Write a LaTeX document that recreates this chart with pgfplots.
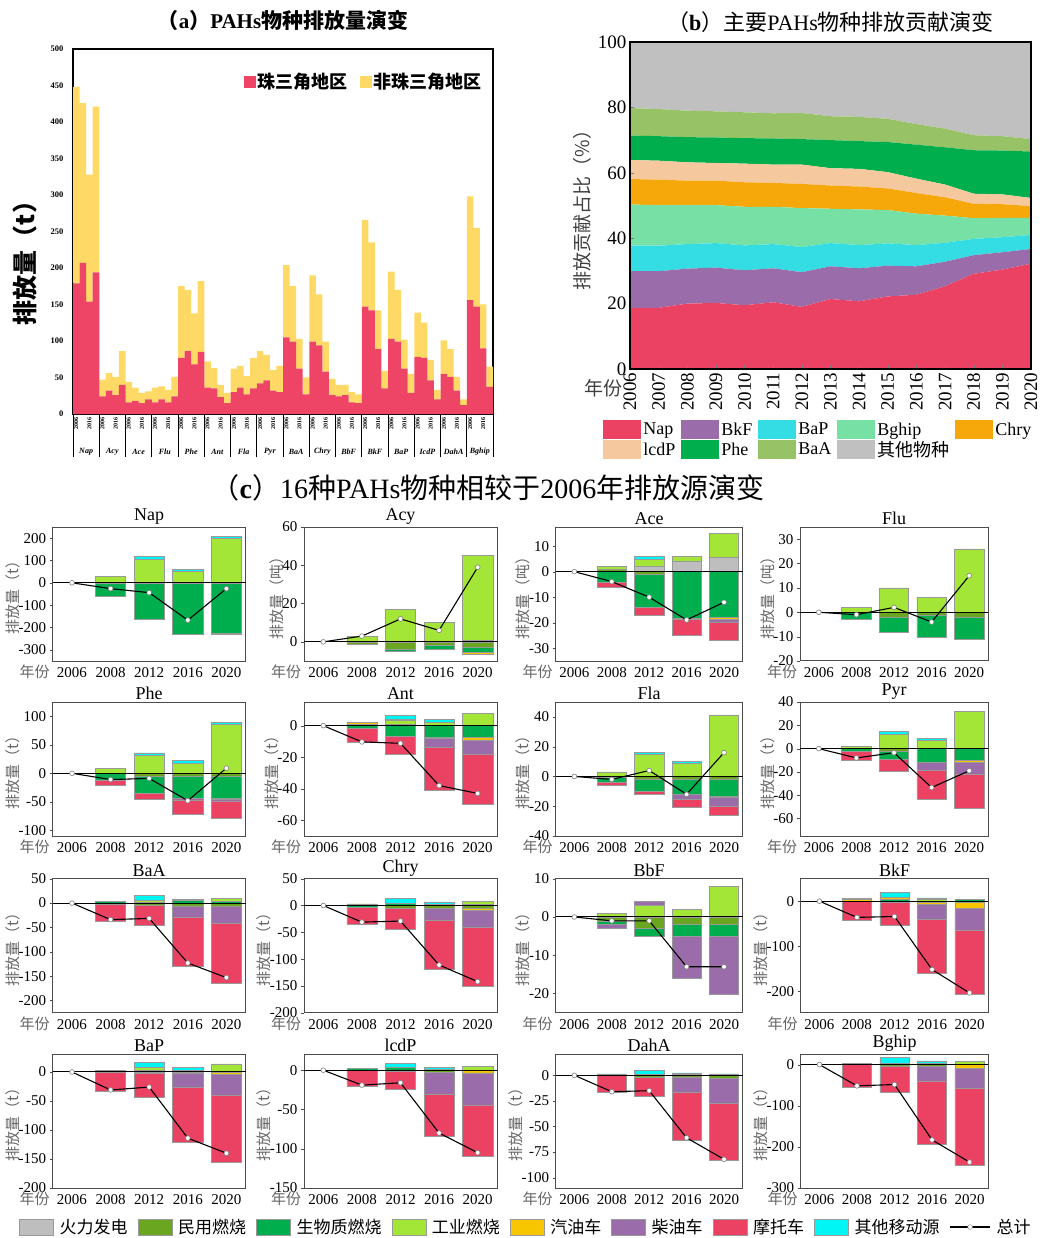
\documentclass[border=0pt]{standalone}
\usepackage{pgfplots}
\pgfplotsset{compat=1.18}
\usepackage{pgfplotstable}
\usepackage{fontspec}
\setmainfont{Liberation Serif}
\newfontfamily\zhfont{Noto Sans CJK SC}

% --- Farben ---------------------------------------------
\definecolor{cH}{HTML}{BEBEBE}
\definecolor{cM}{HTML}{6AA61F}
\definecolor{cB}{HTML}{00AE4D}
\definecolor{cI}{HTML}{A4E637}
\definecolor{cG}{HTML}{F7C600}
\definecolor{cD}{HTML}{9A6DAA}
\definecolor{cT}{HTML}{EB4264}
\definecolor{cO}{HTML}{00F5F5}
\definecolor{aRed}{HTML}{EE4466}
\definecolor{aYel}{HTML}{FFD966}
\definecolor{bBaP}{HTML}{33DDE3}
\definecolor{bBgh}{HTML}{76E0A5}
\definecolor{bChr}{HTML}{F6A70A}
\definecolor{bIcd}{HTML}{F5C89D}
\definecolor{bBaA}{HTML}{98C266}
\definecolor{bOth}{HTML}{C0C0C0}

% --- (a) PRD / non-PRD, 16 species x 4 years ------------
\pgfplotstableread{
x prd non
1 179 269
2 207 219
3 154 174
4 194 227
5 24 23
6 32 24
7 26 25
8 40 46
9 16 28
10 18 18
11 15 14
12 20 11
13 16 20
14 20 18
15 16 17
16 24 27
17 77 98
18 86 84
19 68 70
20 85 97
21 36 36
22 35 28
23 23 17
24 15 14
25 30 32
26 36 30
27 27 25
28 35 42
29 42 44
30 46 35
31 32 28
32 30 36
33 105 99
34 99 76
35 62 41
36 27 23
37 99 91
38 94 70
39 58 41
40 26 22
41 24 16
42 26 14
43 16 14
44 15 12
45 147 119
46 142 93
47 89 53
48 35 24
49 103 92
50 99 71
51 62 40
52 29 26
53 78 61
54 77 48
55 46 28
56 20 13
57 55 46
58 51 38
59 32 19
60 12 8
61 156 142
62 147 108
63 90 60
64 37 28
}\tA

% --- (b) Anteile (%) -------------------------------------
\pgfplotstableread{
yr Nap BkF BaP Bghip Chry IcdP Phe BaA Oth
2006 18.7 11.2 7.8 12.6 7.8 5.8 7.5 8.4 20.2
2007 18.7 11.2 7.8 12.4 7.8 5.8 7.5 8.3 20.5
2008 20.0 10.7 7.5 11.9 7.5 5.6 7.7 8.1 21.0
2009 20.2 10.8 7.5 11.6 7.5 5.4 7.8 8.0 21.2
2010 19.5 10.7 7.6 11.8 7.5 5.7 7.8 7.9 21.5
2011 20.4 10.4 7.4 11.4 7.3 5.6 8.0 7.7 21.8
2012 19.0 10.6 7.7 11.9 7.4 5.9 7.8 8.0 21.7
2013 21.4 10.0 7.1 10.5 7.1 5.3 8.6 7.3 22.7
2014 20.7 10.1 7.1 10.9 7.0 5.4 8.5 7.4 22.9
2015 22.2 9.4 6.8 10.2 6.6 5.0 9.2 7.1 23.5
2016 22.7 8.7 6.5 9.6 6.3 4.4 10.4 6.3 25.1
2017 25.3 7.5 5.8 8.3 5.6 3.9 11.4 5.7 26.5
2018 29.1 5.7 5.0 6.3 4.4 3.1 13.3 4.6 28.5
2019 30.4 5.3 4.6 5.9 4.2 3.0 13.4 4.4 28.8
2020 32.2 4.5 4.3 5.2 3.6 2.5 14.2 3.8 29.7
}\tB

% --- (c) Aenderung gegenueber 2006, je Quelle -----------
% H 火力发电, M 民用燃烧, B 生物质燃烧, I 工业燃烧,
% G 汽油车, D 柴油车, T 摩托车, O 其他移动源
\pgfplotstableread{
x H M B I G D T O
1 0 0 -58 28 0 0 0 0
2 0 0 -165 107 0 0 0 10
3 0 0 -228 50 0 0 0 10
4 0 0 -226 200 -6 0 0 9
}\tNap
\pgfplotstableread{
x H M B I G D T O
1 0 -1.4 0 2.8 0 0 0 0
2 0 -3.8 -1.3 17 0 0 0 0
3 0 -2 -2 10 0 0 0 0
4 1 -3 -2.3 44 -1 0 0 0
}\tAcy
\pgfplotstableread{
x H M B I G D T O
1 0 1 -4.2 1 0 0 -1.9 0
2 2 -1 -13 3 0 0 -3.2 1
3 3.9 0 -18.2 2.1 0 -0.6 -6.1 0
4 5.8 0 -17.9 9.1 -0.9 -1.2 -7 0
}\tAce
\pgfplotstableread{
x H M B I G D T O
1 0 0 -3 2 0 0 0 0
2 0 -2.2 -5.9 10 0 0 0 0
3 0 -1.1 -9 6 0 0 0 0
4 0 -2.2 -8.9 26 0 0 0 0
}\tFlu
\pgfplotstableread{
x H M B I G D T O
1 0 0 -11.6 8 0 0 -8.7 0
2 0 -5.8 -29 32 0 0 -10.5 4
3 0 -4.6 -39 17.4 0 -3 -25 4.6
4 0 -4.6 -39 86.6 -2.3 -2.3 -30 2.3
}\tPhe
\pgfplotstableread{
x H M B I G D T O
1 0 1.1 -1.5 0 0.8 0 -8.8 0
2 0 1 -7 2.5 0.5 0 -11 2.7
3 0 0 -7.2 2 -1 -5.7 -27 1.9
4 0 0 -7.2 7.8 -1.9 -9.3 -31.6 0
}\tAnt
\pgfplotstableread{
x H M B I G D T O
1 0 -0.7 -3.1 3.1 0 0 -2 0
2 0 -2 -7.8 15 0 0 -2 1.3
3 0 -1.8 -10 9.2 0 -3.8 -5.4 1
4 0 -2 -11.2 41.3 -0.9 -6 -5.8 0
}\tFla
\pgfplotstableread{
x H M B I G D T O
1 0 0 -2.6 1.7 0 0 -7.8 0
2 0 -2.3 -7.2 12 0 0 -9.5 2.6
3 0 0 -11.5 6.9 0 -7.2 -24.7 2
4 0 0 -10.4 32 -1.4 -9.8 -30 0
}\tPyr
\pgfplotstableread{
x H M B I G D T O
1 0 -2 3 0 0 0 -36 0
2 0 -4.8 2 4.5 0 0 -41 9
3 0 -5.5 4.8 0 0 -22.6 -102 2.7
4 0 -7.5 3 6.6 0 -33.6 -124 0
}\tBaA
\pgfplotstableread{
x H M B I G D T O
1 0 3 -3.7 0 0 0 -31.5 0
2 0 -5.6 5 0 0 0 -38 8.6
3 0 -6 3 0 0 -21 -91 3.7
4 0 -5.6 2.5 6.2 -3.7 -31 -111 0
}\tChry
\pgfplotstableread{
x H M B I G D T O
1 0 -1.1 -0.8 1 0 -1.1 0 0
2 0 -3 -2.1 3 0 1.1 0 0
3 0 -2 -3.1 2 0 -11 0 0
4 0 -2 -3.1 8 0 -15 0 0
}\tBbF
\pgfplotstableread{
x H M B I G D T O
1 0 0 0 0 3.7 0 -43 2.5
2 0 -3 4 0 4 0 -51 12
3 0 -3 0 3.7 -4.4 -32.6 -120 3.7
4 0 -3 4.4 0 -13 -48 -144 0
}\tBkF
\pgfplotstableread{
x H M B I G D T O
1 0 -1 3 0 0 0 -33 0
2 0 -2.3 3 5 0 0 -41 9
3 0 -2.3 3.4 0 0 -23.6 -96 5
4 0 0 0 14 -4.6 -35 -116 0
}\tBaP
\pgfplotstableread{
x H M B I G D T O
1 0 0 2 0 0 0 -20.6 0
2 0 -1.7 3.4 0 0 0 -22.7 5.5
3 0 -3 1.7 0 0 -27.3 -54 2.1
4 0 0 0 5 -3.4 -40.8 -65.5 0
}\tIcdP
\pgfplotstableread{
x H M B I G D T O
1 0 0 1.3 0 0 0 -17 0
2 0 -2.3 1 0 0 0 -18.5 3.9
3 0 -1.6 0.7 0 0 -15 -46.4 1.6
4 0 -3.2 1.3 0 0 -24 -55.5 0
}\tDahA
\pgfplotstableread{
x H M B I G D T O
1 0 0 3.2 0 0 0 -55 0
2 0 -4.8 4 0 0 0 -63 13.7
3 0 -4.8 2.4 0 0 -34.7 -153 6.5
4 0 0 2 5 -8.9 -49 -186 0
}\tBghip

\pgfplotsset{
  cpanel/.style={
    anchor=north west, scale only axis, height=134pt,
    xmin=-0.5, xmax=4.5, xtick={0,...,4},
    xticklabels={2006,2008,2012,2016,2020},
    ybar stacked, bar width=0.78, reverse stacked plots=false,
    axis on top,
    axis line style={draw=black!70, line width=1pt},
    xtick style={draw=none},
    ytick pos=left, tick align=outside, major tick length=3pt,
    ytick style={draw=black!70},
    extra y ticks={0}, extra y tick labels={},
    extra y tick style={grid=major, major tick length=0pt,
      major grid style={black, line width=1pt}},
    ticklabel style={font=\fontsize{15}{15}\selectfont},
    /pgf/number format/assume math mode=true,
    title style={font=\fontsize{18}{18}\selectfont, yshift=-7pt},
    ylabel style={font=\zhfont\fontsize{15}{15}\selectfont, text=black!60, yshift=-11pt},
    every axis plot/.append style={draw=black!40, line width=0.5pt},
    extra description/.code={
      \node[font=\zhfont\fontsize{15}{15}\selectfont, text=black!60,
            xshift=-18pt, yshift=-11pt] at (0,0) {年份};},
  },
  total/.style={black, line width=1.1pt, sharp plot, stack plots=false,
    mark=*, mark size=2.4pt,
    mark options={fill=white, draw=black!50, line width=0.6pt}},
  box/.style={legend image code/.code={
      \draw[##1, draw=black!40] (0pt,-8pt) rectangle (34pt,8pt);}},
}

% ybar stacked stapelt positive und negative Werte getrennt
\newcommand\stackbars[1]{%
  \addplot[fill=cH] table[x=x,y=H]{#1};
  \addplot[fill=cM] table[x=x,y=M]{#1};
  \addplot[fill=cB] table[x=x,y=B]{#1};
  \addplot[fill=cI] table[x=x,y=I]{#1};
  \addplot[fill=cG] table[x=x,y=G]{#1};
  \addplot[fill=cD] table[x=x,y=D]{#1};
  \addplot[fill=cT] table[x=x,y=T]{#1};
  \addplot[fill=cO] table[x=x,y=O]{#1};
}

\tikzset{grp/.style={font=\bfseries\itshape\fontsize{8}{8}\selectfont, yshift=-38pt}}

\begin{document}
\begin{tikzpicture}
\useasboundingbox (0pt,0pt) rectangle (1052pt,-1238pt);

% ---------- (a) ------------------------------------------
\begin{axis}[
  at={(73pt,-49pt)}, anchor=north west, scale only axis,
  width=420pt, height=365pt, clip mode=individual,
  ybar stacked, bar width=1,
  xmin=0.5, xmax=64.5, ymin=0, ymax=500,
  axis line style={line width=1.6pt},
  tick pos=left, tick align=outside, major tick length=0pt,
  ytick={0,50,...,500},
  yticklabel style={font=\bfseries\fontsize{8.5}{8.5}\selectfont, xshift=-6pt},
  /pgf/number format/assume math mode=true,
  xtick={1,3,...,63},
  xticklabels={2006,2016,2006,2016,2006,2016,2006,2016,2006,2016,2006,2016,2006,2016,2006,2016,
               2006,2016,2006,2016,2006,2016,2006,2016,2006,2016,2006,2016,2006,2016,2006,2016},
  xticklabel style={rotate=90, anchor=east, font=\bfseries\fontsize{6}{6}\selectfont},
  minor xtick={0.5,4.5,...,64.5}, minor tick length=43pt,
  minor tick style={black, line width=1pt},
  ylabel={排放量（t）},
  ylabel style={font=\zhfont\bfseries\fontsize{25}{25}\selectfont,
                at={(axis description cs:-0.114,0.43)}, anchor=center},
  title={{\zhfont （}a{\zhfont ）}PAHs{\zhfont 物种排放量演变}},
  title style={font=\bfseries\fontsize{21}{21}\selectfont, yshift=9pt},
  legend cell align=left,
  legend style={at={(0.985,0.945)}, anchor=north east, draw=none, fill=none,
    legend columns=2, font=\zhfont\bfseries\fontsize{18}{18}\selectfont,
    /tikz/every even column/.append style={column sep=10pt}},
  legend image code/.code={\fill[#1] (0pt,-6pt) rectangle (12pt,6pt);},
]
\addplot[fill=aRed, draw=none] table[x=x,y=prd]{\tA};
\addplot[fill=aYel, draw=none] table[x=x,y=non]{\tA};
\legend{珠三角地区,非珠三角地区}
\node[grp] at (axis cs:2.5,0) {Nap};
\node[grp] at (axis cs:6.5,0) {Acy};
\node[grp] at (axis cs:10.5,0) {Ace};
\node[grp] at (axis cs:14.5,0) {Flu};
\node[grp] at (axis cs:18.5,0) {Phe};
\node[grp] at (axis cs:22.5,0) {Ant};
\node[grp] at (axis cs:26.5,0) {Fla};
\node[grp] at (axis cs:30.5,0) {Pyr};
\node[grp] at (axis cs:34.5,0) {BaA};
\node[grp] at (axis cs:38.5,0) {Chry};
\node[grp] at (axis cs:42.5,0) {BbF};
\node[grp] at (axis cs:46.5,0) {BkF};
\node[grp] at (axis cs:50.5,0) {BaP};
\node[grp] at (axis cs:54.5,0) {IcdP};
\node[grp] at (axis cs:58.5,0) {DahA};
\node[grp] at (axis cs:62.5,0) {Bghip};
\end{axis}

% ---------- (b) ------------------------------------------
\begin{axis}[
  at={(630pt,-42pt)}, anchor=north west, scale only axis,
  width=401pt, height=327pt,
  stack plots=y, area style,
  xmin=2006, xmax=2020, ymin=0, ymax=100,
  xtick={2006,...,2020}, ytick={0,20,...,100},
  /pgf/number format/1000 sep={},
  /pgf/number format/assume math mode=true,
  axis line style={line width=1.5pt},
  tick pos=left, tick align=inside, major tick length=4pt,
  ticklabel style={font=\fontsize{19}{19}\selectfont},
  xticklabel style={rotate=90, anchor=east},
  ylabel={排放贡献占比（\%）},
  ylabel style={font=\zhfont\fontsize{19}{19}\selectfont, text=black!75},
  title={{\zhfont （}\textbf{b}{\zhfont ）主要}PAHs{\zhfont 物种排放贡献演变}},
  title style={font=\fontsize{22}{22}\selectfont},
  legend cell align=left,
  legend style={at={(0.47,-0.15)}, anchor=north, draw=none, fill=none,
    legend columns=5, font=\fontsize{18}{18}\selectfont,
    /tikz/every even column/.append style={column sep=4pt}},
  legend image code/.code={\fill[#1] (0pt,-9.5pt) rectangle (38pt,9.5pt);},
  extra description/.code={
    \node[font=\zhfont\fontsize{19}{19}\selectfont, text=black!75,
          xshift=-27pt, yshift=-19pt] at (0,0) {年份};},
]
\addplot[fill=cT, draw=none] table[x=yr,y=Nap]{\tB} \closedcycle;
\addplot[fill=cD, draw=none] table[x=yr,y=BkF]{\tB} \closedcycle;
\addplot[fill=bBaP, draw=none] table[x=yr,y=BaP]{\tB} \closedcycle;
\addplot[fill=bBgh, draw=none] table[x=yr,y=Bghip]{\tB} \closedcycle;
\addplot[fill=bChr, draw=none] table[x=yr,y=Chry]{\tB} \closedcycle;
\addplot[fill=bIcd, draw=none] table[x=yr,y=IcdP]{\tB} \closedcycle;
\addplot[fill=cB, draw=none] table[x=yr,y=Phe]{\tB} \closedcycle;
\addplot[fill=bBaA, draw=none] table[x=yr,y=BaA]{\tB} \closedcycle;
\addplot[fill=bOth, draw=none] table[x=yr,y=Oth]{\tB} \closedcycle;
\legend{Nap,BkF,BaP,Bghip,Chry,lcdP,Phe,BaA,{\zhfont 其他物种}}
\end{axis}

% ---------- (c) ------------------------------------------
\node[font=\fontsize{28}{28}\selectfont] at (488pt,-488pt)
  {{\zhfont （}\textbf{c}{\zhfont ）}16{\zhfont 种}PAHs{\zhfont 物种相较于}2006{\zhfont 年排放源演变}};

% row 1
\begin{axis}[cpanel, at={(52.7pt,-527pt)}, width=193pt, title={Nap},
  ymin=-350, ymax=250, ytick={-300,-200,...,200}, ylabel={排放量（t）}]
\stackbars{\tNap}
\addplot[total] coordinates {(0,0) (1,-26) (2,-44) (3,-167) (4,-26)};
\end{axis}
\begin{axis}[cpanel, at={(304pt,-527pt)}, width=193pt, title={Acy},
  ymin=-10, ymax=60, ytick={0,20,40,60}, ylabel={排放量（吨）}]
\stackbars{\tAcy}
\addplot[total] coordinates {(0,0) (1,3) (2,12) (3,6) (4,39)};
\end{axis}
\begin{axis}[cpanel, at={(555.7pt,-527pt)}, width=187pt, title={Ace},
  ymin=-35, ymax=17.5, ytick={-30,-20,...,10}, ylabel={排放量（吨）}]
\stackbars{\tAce}
\addplot[total] coordinates {(0,0) (1,-3.9) (2,-10) (3,-18.9) (4,-12)};
\end{axis}
\begin{axis}[cpanel, at={(800pt,-527pt)}, width=188pt, title={Flu},
  ymin=-20, ymax=35, ytick={-20,-10,...,30}, ylabel={排放量（吨）}]
\stackbars{\tFlu}
\addplot[total] coordinates {(0,0) (1,-1) (2,2) (3,-4) (4,15)};
\end{axis}

% row 2
\begin{axis}[cpanel, at={(52.7pt,-702pt)}, width=193pt, title={Phe},
  ymin=-110, ymax=125, ytick={-100,-50,...,100}, ylabel={排放量（t）}]
\stackbars{\tPhe}
\addplot[total] coordinates {(0,0) (1,-11) (2,-9) (3,-48) (4,9)};
\end{axis}
\begin{axis}[cpanel, at={(304pt,-702pt)}, width=193pt, title={Ant},
  ymin=-70, ymax=15, ytick={-60,-40,...,0}, ylabel={排放量（t）}]
\stackbars{\tAnt}
\addplot[total] coordinates {(0,0) (1,-10.3) (2,-11.2) (3,-38) (4,-43)};
\end{axis}
\begin{axis}[cpanel, at={(555.7pt,-702pt)}, width=187pt, title={Fla},
  ymin=-40, ymax=50, ytick={-40,-20,...,40}, ylabel={排放量（t）}]
\stackbars{\tFla}
\addplot[total] coordinates {(0,0) (1,-2) (2,4) (3,-12) (4,16)};
\end{axis}
\begin{axis}[cpanel, at={(800pt,-702pt)}, width=188pt, title={Pyr},
  ymin=-75, ymax=40, ytick={-60,-40,...,40}, ylabel={排放量（t）}]
\stackbars{\tPyr}
\addplot[total] coordinates {(0,0) (1,-8) (2,-3.5) (3,-33.4) (4,-19)};
\end{axis}

% row 3
\begin{axis}[cpanel, at={(52.7pt,-878.7pt)}, width=193pt, title={BaA},
  ymin=-225, ymax=50, ytick={-200,-150,...,50}, ylabel={排放量（t）}]
\stackbars{\tBaA}
\addplot[total] coordinates {(0,0) (1,-34) (2,-31.5) (3,-123) (4,-153)};
\end{axis}
\begin{axis}[cpanel, at={(304pt,-878.7pt)}, width=193pt, title={Chry},
  ymin=-200, ymax=50, ytick={-200,-150,...,50}, ylabel={排放量（t）}]
\stackbars{\tChry}
\addplot[total] coordinates {(0,0) (1,-31) (2,-29) (3,-111) (4,-142)};
\end{axis}
\begin{axis}[cpanel, at={(555.7pt,-878.7pt)}, width=187pt, title={BbF},
  ymin=-25, ymax=10, ytick={-20,-10,0,10}, ylabel={排放量（t）}]
\stackbars{\tBbF}
\addplot[total] coordinates {(0,0) (1,-1) (2,-1) (3,-13) (4,-13)};
\end{axis}
\begin{axis}[cpanel, at={(800.7pt,-878.7pt)}, width=187.6pt, title={BkF},
  ymin=-248, ymax=50, ytick={-200,-100,0}, ylabel={排放量（t）}]
\stackbars{\tBkF}
\addplot[total] coordinates {(0,0) (1,-36) (2,-34) (3,-152) (4,-204)};
\end{axis}

% row 4
\begin{axis}[cpanel, at={(52.7pt,-1054pt)}, width=193pt, title={BaP},
  ymin=-200, ymax=31, ytick={-200,-150,...,0}, ylabel={排放量（t）}]
\stackbars{\tBaP}
\addplot[total] coordinates {(0,0) (1,-31) (2,-26) (3,-114) (4,-140)};
\end{axis}
\begin{axis}[cpanel, at={(304pt,-1054pt)}, width=193pt, title={lcdP},
  ymin=-150, ymax=20.6, ytick={-150,-100,...,0}, ylabel={排放量（t）}]
\stackbars{\tIcdP}
\addplot[total] coordinates {(0,0) (1,-19) (2,-16) (3,-80) (4,-105)};
\end{axis}
\begin{axis}[cpanel, at={(555.7pt,-1054pt)}, width=187pt, title={DahA},
  ymin=-110, ymax=20.8, ytick={-100,-75,...,0}, ylabel={排放量（t）}]
\stackbars{\tDahA}
\addplot[total] coordinates {(0,0) (1,-16) (2,-15) (3,-61) (4,-82)};
\end{axis}
\begin{axis}[cpanel, at={(800.7pt,-1054pt)}, width=187.6pt, title={Bghip},
  ymin=-300, ymax=25.8, ytick={-300,-200,...,0}, ylabel={排放量（t）}]
\stackbars{\tBghip}
\addplot[total] coordinates {(0,0) (1,-51.6) (2,-48.4) (3,-183) (4,-237)};
\end{axis}

% ---------- gemeinsame Legende ---------------------------
\begin{axis}[
  at={(0pt,-1238pt)}, anchor=south west, hide axis, scale only axis,
  width=1052pt, height=22pt, xmin=0, xmax=1, ymin=0, ymax=1,
  legend columns=9,
  legend style={at={(0.5,0.5)}, anchor=center, draw=none, fill=none,
    font=\zhfont\fontsize{17}{17}\selectfont,
    /tikz/every even column/.append style={column sep=8pt},
    /tikz/every odd column/.append style={column sep=4pt}},
]
\addlegendimage{box, fill=cH}\addlegendentry{火力发电}
\addlegendimage{box, fill=cM}\addlegendentry{民用燃烧}
\addlegendimage{box, fill=cB}\addlegendentry{生物质燃烧}
\addlegendimage{box, fill=cI}\addlegendentry{工业燃烧}
\addlegendimage{box, fill=cG}\addlegendentry{汽油车}
\addlegendimage{box, fill=cD}\addlegendentry{柴油车}
\addlegendimage{box, fill=cT}\addlegendentry{摩托车}
\addlegendimage{box, fill=cO}\addlegendentry{其他移动源}
\addlegendimage{black, legend image code/.code={
    \draw[black, line width=1.1pt] (0pt,0pt) -- (40pt,0pt);
    \fill[white, draw=black!50] (20pt,0pt) circle (2.4pt);}}
\addlegendentry{总计}
\end{axis}
\end{tikzpicture}
\end{document}
